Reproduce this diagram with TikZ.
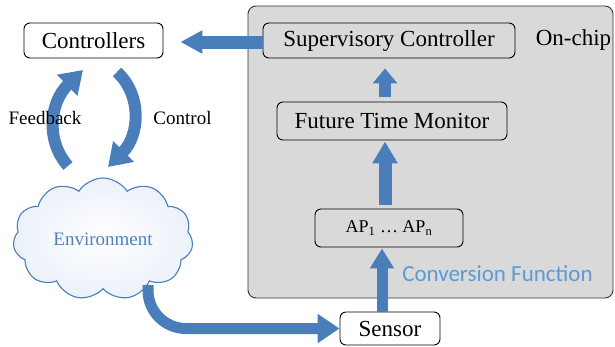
\documentclass[tikz,border=0pt]{standalone}
\usepackage{fontspec}
\setmainfont{Liberation Serif}
\newfontfamily\serifface{Liberation Serif}
\newfontfamily\calibrifont{Carlito}
\usetikzlibrary{arrows.meta,shapes.symbols}

\definecolor{arrowblue}{RGB}{74,126,187}
\definecolor{chipgray}{RGB}{217,217,217}
\definecolor{envblue}{RGB}{79,129,189}
\definecolor{convblue}{RGB}{91,155,213}
\definecolor{cloudfill}{RGB}{236,241,249}

\begin{document}
\begin{tikzpicture}[x=1pt,y=-1pt,
  box/.style={draw=black, line width=0.9pt, rounded corners=6pt, inner sep=0pt,
    font=\serifface\fontsize{23}{26}\selectfont},
  flow/.style={draw=arrowblue, line width=12pt,
    -{Triangle[width=24pt,length=15pt]}},
  bigtext/.style={font=\serifface\fontsize{23}{26}\selectfont},
  smalltext/.style={font=\serifface\fontsize{19}{22}\selectfont},
]
\useasboundingbox (0,0) rectangle (615,346);

% on-chip region
\node[draw=black!80, line width=0.9pt, fill=chipgray, rounded corners=8pt,
  minimum width=365pt, minimum height=292pt] (chip) at (430.5,152) {};
\node[bigtext] (onchip) at (573.5,40) {On-chip};

% blocks
\node[box, minimum width=252pt, minimum height=35pt] (sc) at (389,40.5) {Supervisory Controller};
\node[box, minimum width=230pt, minimum height=38pt] (ftm) at (392,121) {Future Time Monitor};
\node[box, minimum width=148pt, minimum height=38pt, font=\serifface\fontsize{18}{21}\selectfont] (ap) at (389,228)
  {AP\textsubscript{1} \dots\ AP\textsubscript{n}};
\node[box, fill=white, minimum width=100pt, minimum height=33pt] (sensor) at (390,328.5) {Sensor};
\node[box, fill=white, minimum width=139pt, minimum height=35pt] (ctrl) at (93.5,40.5) {Controllers};

\node[text=convblue, font=\calibrifont\fontsize{23}{26}\selectfont] (conv) at (497.5,274) {Conversion Function};

% environment cloud
\node[cloud, cloud puffs=11, cloud puff arc=115, cloud ignores aspect,
  draw=arrowblue, line width=1.1pt, inner color=white, outer color=cloudfill,
  minimum width=180pt, minimum height=122pt, inner sep=0pt,
  text=envblue, smalltext] (env) at (103,239) {Environment};

% vertical flow inside the chip
\draw[flow, shorten <=5pt, shorten >=10pt] ([xshift=-7pt]ftm.north) -- ([xshift=-4pt]sc.south);
\draw[flow, line width=13pt, -{Triangle[width=24pt,length=22pt]}, shorten <=4pt, shorten >=1pt]
  ([xshift=-4pt]ap.north) -- ([xshift=-7pt]ftm.south);
\draw[flow, line width=11pt, -{Triangle[width=23pt,length=20pt]}, shorten >=1pt]
  ([xshift=-8pt]sensor.north) -- ([xshift=-7pt]ap.south);

% supervisory controller to controllers
\draw[flow, line width=13pt, -{Triangle[width=22pt,length=22pt]}, shorten >=17pt]
  ([yshift=-1.5pt]sc.west) -- ([yshift=-1.5pt]ctrl.east);

% environment to sensor
\draw[flow, line width=11pt, -{Triangle[width=28pt,length=22pt]}, rounded corners=38pt]
  ([xshift=45pt,yshift=-46pt]env.center) |- (sensor.west);

% feedback / control loop
\coordinate (fbtail) at (68,166);
\coordinate (fbtip) at (83,70);
\coordinate (cttail) at (117,72);
\coordinate (cttip) at (108,167);
\draw[flow, line width=12pt, -{Triangle[width=28pt,length=22pt]}]
  (fbtail) .. controls (45,140) and (50,102) .. (fbtip);
\draw[flow, line width=12pt, -{Triangle[width=28pt,length=22pt]}]
  (cttail) .. controls (142,95) and (140,135) .. (cttip);

\node[smalltext] (fb) at (45,118) {Feedback};
\node[smalltext] (ct) at (182.5,118) {Control};
\end{tikzpicture}
\end{document}
